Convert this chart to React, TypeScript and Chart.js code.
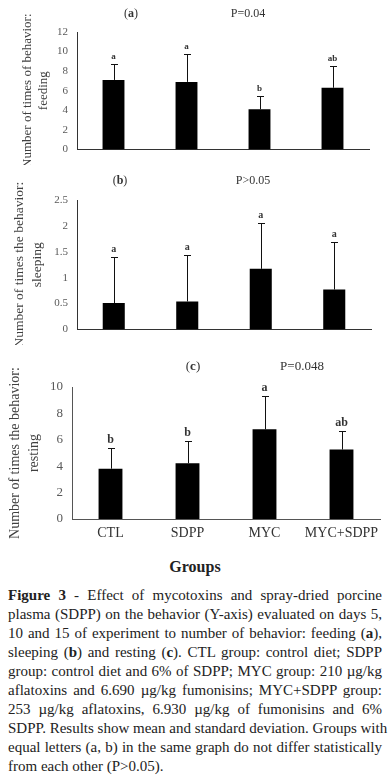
import React, { useEffect, useRef } from "react";
import { Chart, registerables } from "chart.js";

Chart.register(...registerables);

// ---------- data ----------
const categories = ["CTL", "SDPP", "MYC", "MYC+SDPP"];

const feedingMean = [7.1, 6.9, 4.1, 6.3];
const feedingSd = [1.6, 2.9, 1.4, 2.2];
const feedingLetters = ["a", "a", "b", "ab"];
const feedingTicks = { max: 12, step: 2 };

const sleepingMean = [0.51, 0.54, 1.17, 0.77];
const sleepingSd = [0.89, 0.9, 0.89, 0.91];
const sleepingLetters = ["a", "a", "a", "a"];
const sleepingTicks = { max: 2.5, step: 0.5 };

const restingMean = [3.81, 4.23, 6.79, 5.26];
const restingSd = [1.58, 1.66, 2.56, 1.41];
const restingLetters = ["b", "b", "a", "ab"];
const restingTicks = { max: 10, step: 2 };

const SERIF = "'Liberation Serif', 'Times New Roman', serif";

function makeErrorPlugin(sd: number[], letters: string[], letterFont: string, letterColor: string) {
  return {
    id: "errorBars",
    afterDatasetsDraw(chart: any) {
      const { ctx } = chart;
      const meta = chart.getDatasetMeta(0);
      const data = chart.data.datasets[0].data as number[];
      const yScale = chart.scales.y;
      ctx.save();
      meta.data.forEach((el: any, i: number) => {
        const top = yScale.getPixelForValue(data[i] + sd[i]);
        const x = Math.round(el.x) + 0.5;
        const yt = Math.round(top) + 0.5;
        ctx.strokeStyle = "#111";
        ctx.lineWidth = 1;
        ctx.beginPath();
        ctx.moveTo(x, el.y);
        ctx.lineTo(x, yt);
        ctx.moveTo(x - 3.5, yt);
        ctx.lineTo(x + 3.5, yt);
        ctx.stroke();
        ctx.fillStyle = letterColor;
        ctx.font = letterFont;
        ctx.textAlign = "center";
        ctx.textBaseline = "bottom";
        ctx.fillText(letters[i], el.x, yt - 3);
      });
      ctx.restore();
    },
  };
}

type PanelProps = {
  top: number;
  height: number;
  mean: number[];
  sd: number[];
  letters: string[];
  ticks: { max: number; step: number };
  yTitle: string[];
  yTitleSize: number;
  yTitleLineHeight: number;
  yTitlePad: number;
  tickSize: number;
  padTop: number;
  padRight: number;
  yWidth: number;
  xHeight: number;
  showX: boolean;
  barPct: number;
  letterFont: string;
  axisColor: string;
};

function Panel(p: PanelProps) {
  const ref = useRef<HTMLCanvasElement | null>(null);
  useEffect(() => {
    if (!ref.current) return;
    const chart = new Chart(ref.current, {
      type: "bar",
      data: {
        labels: categories,
        datasets: [
          {
            data: p.mean,
            backgroundColor: "#000",
            borderWidth: 0,
            barPercentage: p.barPct,
            categoryPercentage: 1,
          },
        ],
      },
      options: {
        responsive: false,
        animation: false,
        devicePixelRatio: 1,
        layout: { padding: { top: p.padTop, right: p.padRight, left: 0, bottom: 0 } },
        plugins: { legend: { display: false }, tooltip: { enabled: false } },
        scales: {
          x: {
            grid: { display: false, drawTicks: false },
            border: { display: true, color: p.axisColor, width: 1 },
            ticks: {
              display: p.showX,
              padding: 6,
              color: "#333",
              font: { family: SERIF, size: 14 },
              maxRotation: 0,
              autoSkip: false,
            },
            afterFit: (s: any) => {
              s.height = p.xHeight;
            },
          },
          y: {
            min: 0,
            max: p.ticks.max,
            grid: { display: false, drawTicks: false },
            border: { display: true, color: p.axisColor, width: 1 },
            ticks: {
              stepSize: p.ticks.step,
              padding: 9,
              color: "#595959",
              font: { family: SERIF, size: p.tickSize },
              callback: (v: any) => String(Number(v)),
            },
            title: {
              display: true,
              text: p.yTitle,
              color: "#404040",
              font: { family: SERIF, size: p.yTitleSize, lineHeight: p.yTitleLineHeight },
              padding: { top: p.yTitlePad, bottom: 0 },
            },
            afterFit: (s: any) => {
              s.width = p.yWidth;
            },
          },
        },
      },
      plugins: [makeErrorPlugin(p.sd, p.letters, p.letterFont, "#333")],
    });
    return () => chart.destroy();
  }, []);
  return (
    <div style={{ position: "absolute", left: 0, top: p.top, width: 390, height: p.height }}>
      <canvas ref={ref} width={390} height={p.height} style={{ display: "block" }} />
    </div>
  );
}

const txt: React.CSSProperties = { position: "absolute", fontFamily: SERIF, color: "#333", whiteSpace: "nowrap" };

function PanelTitle({ letter, p, top, lx, px, size }: { letter: string; p: string; top: number; lx: number; px: number; size: number }) {
  return (
    <>
      <div style={{ ...txt, top, left: lx, fontSize: size, transform: "translateX(-50%)" }}>
        (<b>{letter}</b>)
      </div>
      <div style={{ ...txt, top, left: px, fontSize: size, transform: "translateX(-50%)" }}>{p}</div>
    </>
  );
}

const captionLines: React.ReactNode[] = [
  <><b>Figure 3</b> - Effect of mycotoxins and spray-dried porcine</>,
  <>plasma (SDPP) on the behavior (Y-axis) evaluated on days 5,</>,
  <>10 and 15 of experiment to number of behavior: feeding (<b>a</b>),</>,
  <>sleeping (<b>b</b>) and resting (<b>c</b>). CTL group: control diet; SDPP</>,
  <>group: control diet and 6% of SDPP; MYC group: 210 µg/kg</>,
  <>aflatoxins and 6.690 µg/kg fumonisins; MYC+SDPP group:</>,
  <>253 µg/kg aflatoxins, 6.930 µg/kg of fumonisins and 6%</>,
  <>SDPP. Results show mean and standard deviation. Groups with</>,
  <>equal letters (a, b) in the same graph do not differ statistically</>,
  <>from each other (P&gt;0.05).</>,
];

export default function App() {
  return (
    <div style={{ position: "fixed", left: 0, top: 0, width: 390, height: 782, background: "#fff", overflow: "hidden" }}>
      <Panel
        top={0}
        height={165}
        mean={feedingMean}
        sd={feedingSd}
        letters={feedingLetters}
        ticks={feedingTicks}
        yTitle={["Number of times of behavior:", "feeding"]}
        yTitleSize={13}
        yTitleLineHeight={1.25}
        yTitlePad={19}
        tickSize={11}
        padTop={32}
        padRight={21}
        yWidth={77}
        xHeight={9}
        showX={false}
        barPct={0.3}
        letterFont={`bold 9px ${SERIF}`}
        axisColor="#333"
      />
      <PanelTitle letter="a" p="P=0.04" top={6} lx={131} px={248} size={12} />
      <Panel
        top={170}
        height={175}
        mean={sleepingMean}
        sd={sleepingSd}
        letters={sleepingLetters}
        ticks={sleepingTicks}
        yTitle={["Number of times the behavior:", "sleeping"]}
        yTitleSize={13.5}
        yTitleLineHeight={1.3}
        yTitlePad={11}
        tickSize={11}
        padTop={30}
        padRight={19}
        yWidth={77}
        xHeight={11}
        showX={false}
        barPct={0.3}
        letterFont={`bold 10px ${SERIF}`}
        axisColor="#333"
      />
      <PanelTitle letter="b" p="P>0.05" top={173} lx={120} px={253} size={12} />
      <Panel
        top={345}
        height={205}
        mean={restingMean}
        sd={restingSd}
        letters={restingLetters}
        ticks={restingTicks}
        yTitle={["Number of times the behavior:", "resting"]}
        yTitleSize={14}
        yTitleLineHeight={1.35}
        yTitlePad={6}
        tickSize={13}
        padTop={42}
        padRight={10}
        yWidth={72}
        xHeight={31}
        showX={true}
        barPct={0.31}
        letterFont={`bold 12px ${SERIF}`}
        axisColor="#555"
      />
      <PanelTitle letter="c" p="P=0.048" top={358} lx={193} px={302} size={13} />
      <div style={{ ...txt, top: 558, left: 195, transform: "translateX(-50%)", fontSize: 16, fontWeight: "bold", color: "#222" }}>
        Groups
      </div>
      <div style={{ position: "absolute", top: 586, left: 8, width: 374, fontFamily: SERIF, fontSize: 15, lineHeight: "19px", color: "#222" }}>
        {captionLines.map((l, i) => (
          <div
            key={i}
            style={{
              whiteSpace: "nowrap",
              textAlign: i === captionLines.length - 1 ? "left" : "justify",
              textAlignLast: i === captionLines.length - 1 ? "left" : "justify",
            }}
          >
            {l}
          </div>
        ))}
      </div>
    </div>
  );
}
